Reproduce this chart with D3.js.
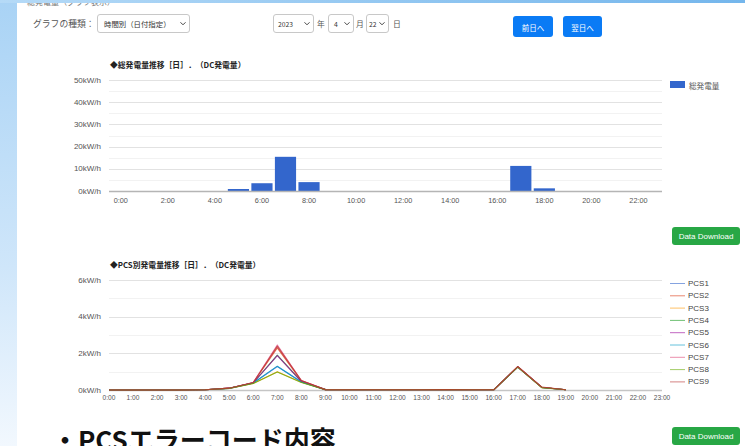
<!DOCTYPE html>
<html><head><meta charset="utf-8">
<script src="https://cdn.jsdelivr.net/npm/d3@7"></script>
<style>
html,body{margin:0;padding:0;background:#fff;overflow:hidden}
svg{display:block}
</style></head>
<body>
<svg id="c" width="745" height="446"></svg>
<script>
// ---------- data ----------
const hours = ["0:00","1:00","2:00","3:00","4:00","5:00","6:00","7:00","8:00","9:00","10:00","11:00","12:00","13:00","14:00","15:00","16:00","17:00","18:00","19:00","20:00","21:00","22:00","23:00"];
const barTickLabels = ["0:00","2:00","4:00","6:00","8:00","10:00","12:00","14:00","16:00","18:00","20:00","22:00"];
const totalTicks = [0,10,20,30,40,50];          // kW/h (x1000)
const totalMinor = [5,15,25,35,45];
const totalKWh = [0,0,0,0,0,0.9,3.5,15.4,4.0,0,0,0,0,0,0,0,0,11.3,1.2,0,0,0,0,0];
const pcsTicks = [0,2,4,6];
const pcsMinor = [1,3,5];
const pcsNames = ["PCS1","PCS2","PCS3","PCS4","PCS5","PCS6","PCS7","PCS8","PCS9"];
const pcsColors = ["#3366cc","#dc3912","#ff9900","#109618","#990099","#0099c6","#dd4477","#66aa00","#b82e2e"];
const pcs1 = [0,0,0,0,0.01,0.09,0.38,1.28,0.44,0.02,0.01,0.01,0.01,0.01,0.02,0.01,0.01,1.26,0.14,0.01,null,null,null,null];
const pcs2 = [0,0,0,0,0.01,0.10,0.40,2.30,0.50,0.02,0.01,0.01,0.01,0.01,0.02,0.01,0.01,1.27,0.15,0.01,null,null,null,null];
const pcs3 = [0,0,0,0,0.01,0.09,0.36,1.00,0.42,0.02,0.01,0.01,0.01,0.01,0.02,0.01,0.01,1.25,0.13,0.01,null,null,null,null];
const pcs4 = [0,0,0,0,0.01,0.10,0.39,1.90,0.47,0.02,0.01,0.01,0.01,0.01,0.02,0.01,0.01,1.26,0.14,0.01,null,null,null,null];
const pcs5 = [0,0,0,0,0.01,0.10,0.39,1.88,0.46,0.02,0.01,0.01,0.01,0.01,0.02,0.01,0.01,1.26,0.14,0.01,null,null,null,null];
const pcs6 = [0,0,0,0,0.01,0.09,0.38,1.30,0.44,0.02,0.01,0.01,0.01,0.01,0.02,0.01,0.01,1.25,0.14,0.01,null,null,null,null];
const pcs7 = [0,0,0,0,0.01,0.10,0.41,2.45,0.52,0.02,0.01,0.01,0.01,0.01,0.02,0.01,0.01,1.27,0.15,0.01,null,null,null,null];
const pcs8 = [0,0,0,0,0.01,0.09,0.36,0.98,0.41,0.02,0.01,0.01,0.01,0.01,0.02,0.01,0.01,1.25,0.13,0.01,null,null,null,null];
const pcs9 = [0,0,0,0,0.01,0.10,0.41,2.38,0.52,0.02,0.01,0.01,0.01,0.01,0.02,0.01,0.01,1.28,0.16,0.01,null,null,null,null];
const pcsSeries = [pcs1,pcs2,pcs3,pcs4,pcs5,pcs6,pcs7,pcs8,pcs9];

const JP = "'Noto Sans CJK JP','Noto Sans',sans-serif";
const LAT = "'Liberation Sans',Arial,sans-serif";

const svg = d3.select("#c");
const defs = svg.append("defs");
const gl = defs.append("linearGradient").attr("id","side").attr("x1",0).attr("y1",0).attr("x2",0).attr("y2",1);
gl.append("stop").attr("offset","0%").attr("stop-color","#a9d3f5");
gl.append("stop").attr("offset","60%").attr("stop-color","#cfe6fa");
gl.append("stop").attr("offset","100%").attr("stop-color","#f2f8fe");
const gt = defs.append("linearGradient").attr("id","top").attr("x1",0).attr("y1",0).attr("x2",1).attr("y2",0);
gt.append("stop").attr("offset","0%").attr("stop-color","#b5daf7");
gt.append("stop").attr("offset","100%").attr("stop-color","#74b6ec");

// background
svg.append("rect").attr("width",745).attr("height",446).attr("fill","#fff");
svg.append("rect").attr("x",0).attr("y",0).attr("width",17).attr("height",446).attr("fill","url(#side)");

// cut-off header text
svg.append("text").attr("x",27).attr("y",5).attr("font-family",JP).attr("font-size",8)
  .attr("fill","#777").text("総発電量（グラフ表示）");
svg.append("rect").attr("x",0).attr("y",0).attr("width",745).attr("height",3).attr("fill","url(#top)");

// ---------- controls ----------
function chevron(x,y){
  svg.append("path").attr("d",`M${x-2.5},${y-1.2} L${x},${y+1.3} L${x+2.5},${y-1.2}`)
    .attr("fill","none").attr("stroke","#444").attr("stroke-width",1);
}
function selectBox(x,y,w,h,label,tx,fs){
  svg.append("rect").attr("x",x+0.5).attr("y",y+0.5).attr("width",w).attr("height",h).attr("rx",2.5)
    .attr("fill","#fff").attr("stroke","#c8c8c8");
  svg.append("text").attr("x",x+tx).attr("y",y+h/2+0.5).attr("dominant-baseline","central")
    .attr("font-family",JP).attr("font-size",fs).attr("fill","#333").text(label);
  chevron(x+w-6,y+h/2+0.5);
}
svg.append("text").attr("x",33).attr("y",23).attr("dominant-baseline","central")
  .attr("font-family",JP).attr("font-size",8.8).attr("fill","#555").text("グラフの種類：");
selectBox(97,14,92,18,"時間別（日付指定）",7,7.4);
selectBox(273,14,40,18,"2023",5,6.8);
svg.append("text").attr("x",317).attr("y",23).attr("dominant-baseline","central")
  .attr("font-family",JP).attr("font-size",7.8).attr("fill","#555").text("年");
selectBox(328,14,25,18,"4",6,6.8);
svg.append("text").attr("x",356).attr("y",23).attr("dominant-baseline","central")
  .attr("font-family",JP).attr("font-size",7.8).attr("fill","#555").text("月");
selectBox(366,14,22,18,"22",3,6.8);
svg.append("text").attr("x",393).attr("y",23).attr("dominant-baseline","central")
  .attr("font-family",JP).attr("font-size",7.8).attr("fill","#555").text("日");
function button(x,y,w,h,fill,label,font,fs){
  svg.append("rect").attr("x",x).attr("y",y).attr("width",w).attr("height",h).attr("rx",3).attr("fill",fill);
  svg.append("text").attr("x",x+w/2).attr("y",y+h/2+0.5).attr("text-anchor","middle").attr("dominant-baseline","central")
    .attr("font-family",font).attr("font-size",fs).attr("fill","#fff").text(label);
}
button(513,16,40,21,"#0a7bf5","前日へ",JP,7.5);
button(563,16,39,21,"#0a7bf5","翌日へ",JP,7.5);
button(672,227,68,18,"#28a745","Data Download",LAT,8);
button(672,427,68,18,"#28a745","Data Download",LAT,8);

// ---------- chart 1: bars ----------
const L = 109, R = 662;
const x1 = d3.scaleLinear().domain([-0.5,23]).range([L,R]);
const y1 = d3.scaleLinear().domain([0,50]).range([191,80]);
const c1 = svg.append("g");
c1.selectAll(".mn").data(totalMinor).join("line").attr("x1",L).attr("x2",R)
  .attr("y1",d=>Math.round(y1(d))+0.5).attr("y2",d=>Math.round(y1(d))+0.5).attr("stroke","#f2f2f2");
c1.selectAll(".mj").data(totalTicks.filter(d=>d>0)).join("line").attr("x1",L).attr("x2",R)
  .attr("y1",d=>Math.round(y1(d))+0.5).attr("y2",d=>Math.round(y1(d))+0.5).attr("stroke","#e2e2e2");
c1.selectAll(".yl").data(totalTicks).join("text").attr("x",101).attr("y",d=>y1(d))
  .attr("text-anchor","end").attr("dominant-baseline","central").attr("font-family",LAT)
  .attr("font-size",8).attr("fill","#555").text(d=>d+"kW/h");
const bw = (x1(1)-x1(0))*0.9;
c1.selectAll(".bar").data(totalKWh).join("rect")
  .attr("x",(d,i)=>x1(i)-bw/2).attr("width",bw)
  .attr("y",d=>y1(d)).attr("height",d=>y1(0)-y1(d)).attr("fill","#3366cc");
c1.append("line").attr("x1",L).attr("x2",R).attr("y1",y1(0)+0.5).attr("y2",y1(0)+0.5)
  .attr("stroke","#b5b5b5").attr("stroke-width",1.5);
c1.selectAll(".xl").data(barTickLabels).join("text")
  .attr("x",d=>x1(hours.indexOf(d))).attr("y",200).attr("text-anchor","middle").attr("dominant-baseline","central")
  .attr("font-family",LAT).attr("font-size",7.3).attr("fill","#555").text(d=>d);
svg.append("text").attr("x",110).attr("y",64).attr("dominant-baseline","central")
  .attr("font-family",JP).attr("font-weight","bold").attr("font-size",7.8).attr("fill","#222")
  .text("◆総発電量推移［日］．（DC発電量）");
svg.append("rect").attr("x",670).attr("y",81).attr("width",15).attr("height",7).attr("fill","#3366cc");
svg.append("text").attr("x",689).attr("y",85).attr("dominant-baseline","central")
  .attr("font-family",JP).attr("font-size",7.6).attr("fill","#555").text("総発電量");

// ---------- chart 2: lines ----------
const x2 = d3.scaleLinear().domain([0,23]).range([L,R]);
const y2 = d3.scaleLinear().domain([0,6]).range([390,280]);
const c2 = svg.append("g");
c2.selectAll(".mn").data(pcsMinor).join("line").attr("x1",L).attr("x2",R)
  .attr("y1",d=>Math.round(y2(d))+0.5).attr("y2",d=>Math.round(y2(d))+0.5).attr("stroke","#f2f2f2");
c2.selectAll(".mj").data(pcsTicks.filter(d=>d>0)).join("line").attr("x1",L).attr("x2",R)
  .attr("y1",d=>Math.round(y2(d))+0.5).attr("y2",d=>Math.round(y2(d))+0.5).attr("stroke","#e2e2e2");
c2.append("line").attr("x1",L).attr("x2",R).attr("y1",y2(0)+0.5).attr("y2",y2(0)+0.5)
  .attr("stroke","#c5c5c5").attr("stroke-width",1.5);
c2.selectAll(".yl").data(pcsTicks).join("text").attr("x",101).attr("y",d=>y2(d))
  .attr("text-anchor","end").attr("dominant-baseline","central").attr("font-family",LAT)
  .attr("font-size",8).attr("fill","#555").text(d=>d+"kW/h");
const line = d3.line().defined(d=>d!==null).x((d,i)=>x2(i)).y(d=>y2(d));
pcsSeries.forEach((s,k)=>{
  c2.append("path").attr("d",line(s)).attr("fill","none").attr("stroke",pcsColors[k])
    .attr("stroke-width",1.1).attr("stroke-opacity",0.75).attr("stroke-linejoin","round");
});
c2.selectAll(".xl").data(hours).join("text")
  .attr("x",(d,i)=>x2(i)).attr("y",397).attr("text-anchor","middle").attr("dominant-baseline","central")
  .attr("font-family",LAT).attr("font-size",6.6).attr("fill","#555").text(d=>d);
svg.append("text").attr("x",110).attr("y",264).attr("dominant-baseline","central")
  .attr("font-family",JP).attr("font-weight","bold").attr("font-size",7.8).attr("fill","#222")
  .text("◆PCS別発電量推移［日］．（DC発電量）");
pcsNames.forEach((n,k)=>{
  const yy = 283.5 + k*12.3;
  svg.append("line").attr("x1",670).attr("x2",685).attr("y1",yy).attr("y2",yy)
    .attr("stroke",pcsColors[k]).attr("stroke-opacity",0.6).attr("stroke-width",1);
  svg.append("text").attr("x",688).attr("y",yy).attr("dominant-baseline","central")
    .attr("font-family",LAT).attr("font-size",8).attr("fill","#444").text(n);
});

// ---------- bottom heading ----------
svg.append("text").attr("x",52).attr("y",450).attr("font-family",JP).attr("font-weight","bold")
  .attr("font-size",26).attr("fill","#111").text("・PCSエラーコード内容");
</script>
</body></html>
